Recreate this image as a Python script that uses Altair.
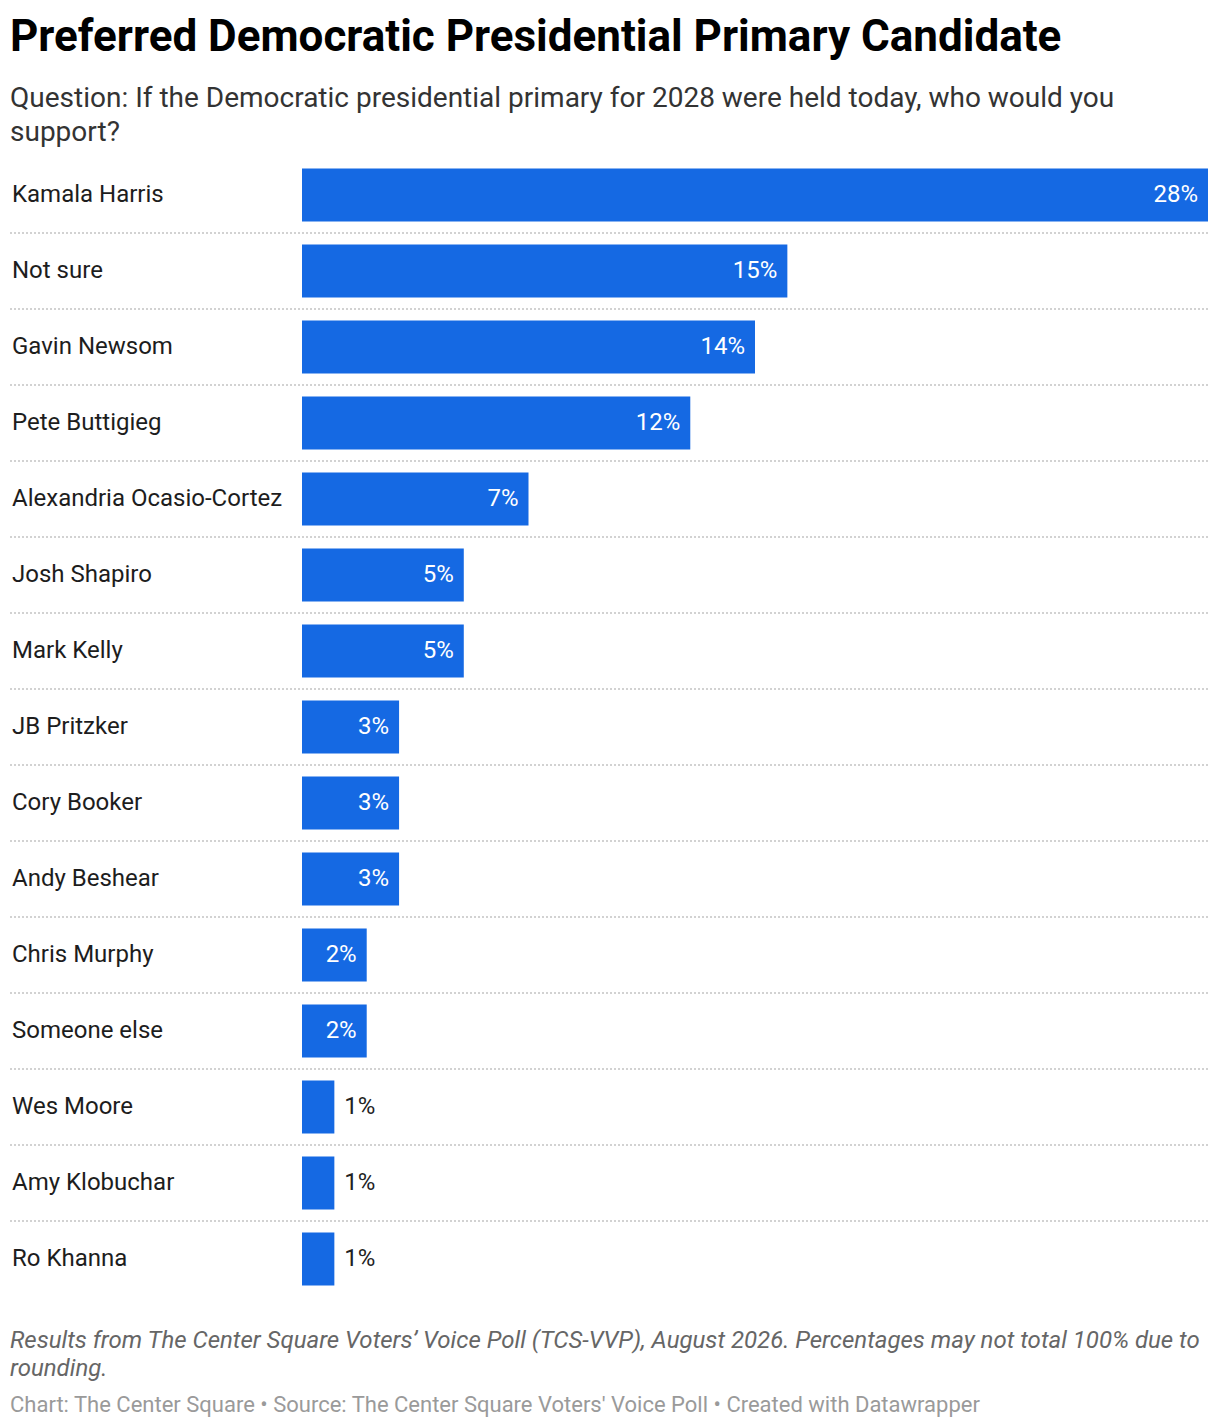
import altair as alt
import pandas as pd

# values
candidates = [
    "Kamala Harris", "Not sure", "Gavin Newsom", "Pete Buttigieg",
    "Alexandria Ocasio-Cortez", "Josh Shapiro", "Mark Kelly", "JB Pritzker",
    "Cory Booker", "Andy Beshear", "Chris Murphy", "Someone else",
    "Wes Moore", "Amy Klobuchar", "Ro Khanna",
]
support = [28, 15, 14, 12, 7, 5, 5, 3, 3, 3, 2, 2, 1, 1, 1]

footer_note = [
    "Results from The Center Square Voters’ Voice Poll (TCS-VVP), August 2026. Percentages may not total 100% due to",
    "rounding.",
]
footer_credit = "Chart: The Center Square • Source: The Center Square Voters' Voice Poll • Created with Datawrapper"

W, H = 906, 1140
BLUE = "#1569e3"
FONT = "Roboto"

df = pd.DataFrame({"name": candidates, "pct": support})
df["label"] = df["pct"].astype(str) + "%"

y_enc = alt.Y(
    "name:N", sort=candidates, axis=None,
    scale=alt.Scale(domain=candidates, paddingInner=0.3, paddingOuter=0.15),
)
x_scale = alt.Scale(domain=[0, 28], nice=False, zero=True)

base = alt.Chart(df)

bars = base.mark_bar(color=BLUE, cornerRadius=0).encode(
    x=alt.X("pct:Q", scale=x_scale, axis=None),
    y=y_enc,
)

# value labels: white inside the bar, dark outside for the narrow ones
inside = base.transform_filter("datum.pct >= 2").mark_text(
    align="right", baseline="middle", dx=-10, color="white", font=FONT, fontSize=24
).encode(x=alt.X("pct:Q", scale=x_scale), y=y_enc, text="label:N")

outside = base.transform_filter("datum.pct < 2").mark_text(
    align="left", baseline="middle", dx=10, color="#222222", font=FONT, fontSize=24
).encode(x=alt.X("pct:Q", scale=x_scale), y=y_enc, text="label:N")

names = base.mark_text(
    align="left", baseline="middle", color="#1d1d1d", font=FONT, fontSize=24
).encode(x=alt.value(-290), y=y_enc, text="name:N")

seps = base.transform_filter(
    alt.FieldOneOfPredicate(field="name", oneOf=candidates[:-1])
).mark_rule(
    color="#d2d2d2", strokeWidth=2, strokeDash=[2, 2], yOffset=38
).encode(x=alt.value(-292), x2=alt.value(W), y=y_enc)


def footer_line(text, y, size, color, style="normal"):
    return alt.Chart(pd.DataFrame({"t": [text]})).mark_text(
        align="left", baseline="alphabetic", fontStyle=style, color=color,
        font=FONT, fontSize=size,
    ).encode(x=alt.value(-292), y=alt.value(y), text="t:N")


note1 = footer_line(footer_note[0], H + 51, 24, "#666666", "italic")
note2 = footer_line(footer_note[1], H + 79, 24, "#666666", "italic")
credit = footer_line(footer_credit, H + 115, 22, "#9a9a9a")

chart = alt.layer(seps, bars, inside, outside, names, note1, note2, credit).properties(
    width=W,
    height=H,
    autosize=alt.AutoSizeParams(type="none"),
    padding={"left": 294, "top": 149, "right": 4, "bottom": 126},
    title=alt.TitleParams(
        text="Preferred Democratic Presidential Primary Candidate",
        subtitle=[
            "Question: If the Democratic presidential primary for 2028 were held today, who would you",
            "support?",
        ],
        anchor="start",
        frame="group",
        dx=-292,
        offset=10,
        font=FONT,
        fontSize=44,
        fontWeight="bold",
        color="#000000",
        subtitleFont=FONT,
        subtitleFontSize=28,
        subtitleColor="#333333",
        subtitleLineHeight=34,
        subtitlePadding=25,
    ),
).configure_view(stroke=None)

chart.save("out.html", embed_options={"renderer": "svg", "actions": False})
